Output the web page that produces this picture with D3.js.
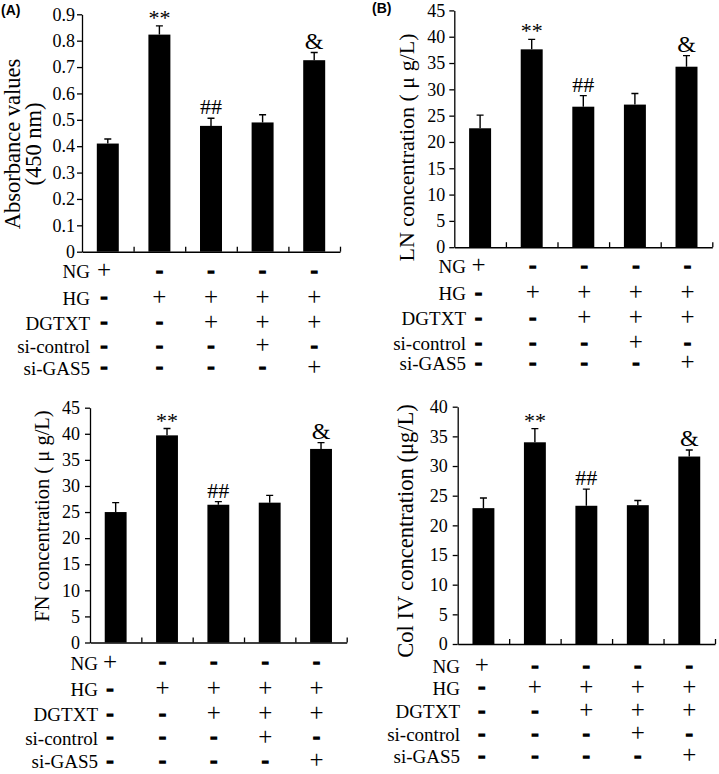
<!DOCTYPE html>
<html>
<head>
<meta charset="utf-8">
<script src="https://cdn.jsdelivr.net/npm/d3@7"></script>
<style>
  html, body { margin: 0; padding: 0; background: #fff; }
  svg { display: block; }
  text { font-family: "Liberation Serif", "Times New Roman", serif; fill: #000; }
</style>
</head>
<body>
<svg id="chart" width="719" height="774"></svg>
<script>
// ---------------- DATA ----------------
const groups = ["G1", "G2", "G3", "G4", "G5"];
const rowLabels = ["NG", "HG", "DGTXT", "si-control", "si-GAS5"];
const treatNG        = ["+", "-", "-", "-", "-"];
const treatHG        = ["-", "+", "+", "+", "+"];
const treatDGTXT     = ["-", "-", "+", "+", "+"];
const treatSiControl = ["-", "-", "-", "+", "-"];
const treatSiGAS5    = ["-", "-", "-", "-", "+"];
const significance   = ["", "**", "##", "", "&"];

const absorbance    = [0.410, 0.823, 0.477, 0.490, 0.726];
const absorbanceErr = [0.017, 0.033, 0.029, 0.029, 0.029];
const lnConc        = [22.6, 37.6, 26.7, 27.1, 34.3];
const lnErr         = [2.5, 1.9, 2.1, 2.1, 2.1];
const fnConc        = [25.0, 39.7, 26.4, 26.8, 37.1];
const fnErr         = [1.8, 1.3, 0.6, 1.4, 1.2];
const colIVConc     = [22.9, 34.0, 23.3, 23.4, 31.6];
const colIVErr      = [1.7, 2.3, 2.8, 0.8, 1.1];

const ticksAbs = [0, 0.1, 0.2, 0.3, 0.4, 0.5, 0.6, 0.7, 0.8, 0.9];
const ticks45  = [0, 5, 10, 15, 20, 25, 30, 35, 40, 45];
const ticks40  = [0, 5, 10, 15, 20, 25, 30, 35, 40];

const treatRows = [treatNG, treatHG, treatDGTXT, treatSiControl, treatSiGAS5];

// ---------------- LAYOUT ----------------
const panels = [
  { tag: "(A)", tagX: 1, tagY: 15, values: absorbance, errs: absorbanceErr, ticks: ticksAbs, yMax: 0.9,
    x0: 82, x1: 340, yZero: 251.7, yTop: 14.3, tickPad: 7,
    yLabel: ["Absorbance values", "(450 nm)"], labelX: [20, 40.5], labelY: 144, labelSize: 22.5,
    rowOff: [20, 46.6, 71.6, 95, 116.6], labelRight: 90, firstX: 104, colShift: 0 },
  { tag: "(B)", tagX: 372, tagY: 13.3, values: lnConc, errs: lnErr, ticks: ticks45, yMax: 45,
    x0: 454.3, x1: 712.3, yZero: 247.2, yTop: 10.4, tickPad: 9,
    yLabel: ["LN concentration ( \u03bc g/L)"], labelX: [414], labelY: 147.5, labelSize: 22,
    rowOff: [19.7, 46.3, 71.3, 96.3, 116.3], labelRight: 466, firstX: 478.5, colShift: 1 },
  { tag: "", values: fnConc, errs: fnErr, ticks: ticks45, yMax: 45,
    x0: 90, x1: 346.7, yZero: 642.5, yTop: 407.7, tickPad: 10,
    yLabel: ["FN concentration ( \u03bc g/L)"], labelX: [49], labelY: 516, labelSize: 20.5,
    rowOff: [20.8, 47.5, 72.5, 95.8, 119.2], labelRight: 98, firstX: 110, colShift: -4.5 },
  { tag: "", values: colIVConc, errs: colIVErr, ticks: ticks40, yMax: 40,
    x0: 457.7, x1: 715, yZero: 644, yTop: 406.7, tickPad: 10,
    yLabel: ["Col IV concentration (\u03bcg/L)"], labelX: [413], labelY: 531, labelSize: 22.5,
    rowOff: [22.7, 44.3, 67.7, 91, 112.7], labelRight: 460, firstX: 481.7, colShift: 0 }
];

const svg = d3.select("#chart");
const AX_W = 1.3;

panels.forEach(p => {
  const g = svg.append("g");
  const x = d3.scaleBand().domain(groups).range([p.x0, p.x1]).paddingInner(0.574).paddingOuter(0.287);
  const y = d3.scaleLinear().domain([0, p.yMax]).range([p.yZero, p.yTop]);
  const bx = d => x(d) + x.bandwidth() / 2;

  // panel tag
  if (p.tag) {
    g.append("text").attr("x", p.tagX).attr("y", p.tagY)
      .style("font-family", "'Liberation Sans', Arial, sans-serif")
      .style("font-weight", "bold").style("font-size", "14px").text(p.tag);
  }

  // bars
  g.selectAll("rect.bar").data(groups).join("rect").attr("class", "bar")
    .attr("x", d => x(d)).attr("width", x.bandwidth())
    .attr("y", (d, i) => y(p.values[i]))
    .attr("height", (d, i) => y(0) - y(p.values[i]))
    .attr("fill", "#000");

  // error bars (upper only)
  const cap = 7;
  g.selectAll("path.err").data(groups).join("path").attr("class", "err")
    .attr("d", (d, i) => {
      const cx = bx(d), yt = y(p.values[i] + p.errs[i]), yb = y(p.values[i]);
      return `M${cx},${yb}V${yt}M${cx - cap / 2},${yt}H${cx + cap / 2}`;
    })
    .attr("stroke", "#000").attr("stroke-width", 1.4).attr("fill", "none");

  // significance marks
  g.selectAll("text.sig").data(groups).join("text").attr("class", "sig")
    .attr("x", d => bx(d))
    .attr("y", (d, i) => y(p.values[i] + p.errs[i]) - (significance[i] === "**" ? 1 : 4))
    .attr("text-anchor", "middle")
    .style("font-size", (d, i) => significance[i] === "&" ? "24px" : "22px")
    .text((d, i) => significance[i]);

  // y axis
  const yAxis = d3.axisLeft(y).tickValues(p.ticks).tickSize(5).tickSizeOuter(0)
    .tickPadding(p.tickPad - 5)
    .tickFormat(d => p.yMax < 1 ? (d === 0 ? "0" : d3.format(".1f")(d)) : d3.format("d")(d));
  const ya = g.append("g").attr("transform", `translate(${p.x0},0)`).call(yAxis);
  ya.selectAll("text").style("font-family", "'Liberation Serif', serif").style("font-size", "18px").attr("fill", "#000");
  ya.selectAll("line").attr("stroke", "#000").attr("stroke-width", AX_W);
  ya.select(".domain").attr("stroke", "#000").attr("stroke-width", AX_W);

  // x axis (ticks at group boundaries, pointing up)
  const xb = d3.scaleLinear().domain([0, groups.length]).range([p.x0, p.x1]);
  const xAxis = d3.axisBottom(xb).tickValues(d3.range(1, groups.length + 1)).tickSize(-5).tickSizeOuter(0).tickFormat("");
  const xa = g.append("g").attr("transform", `translate(0,${p.yZero})`).call(xAxis);
  xa.selectAll("line").attr("stroke", "#000").attr("stroke-width", AX_W);
  xa.select(".domain").attr("stroke", "#000").attr("stroke-width", 1.6);

  // y label
  p.yLabel.forEach((t, k) => {
    g.append("text")
      .attr("transform", `translate(${p.labelX[k]},${p.labelY}) rotate(-90)`)
      .attr("text-anchor", "middle")
      .style("font-size", p.labelSize + "px")
      .text(t);
  });

  // treatment table
  rowLabels.forEach((lab, r) => {
    const cy = p.yZero + p.rowOff[r];
    g.append("text").attr("x", p.labelRight).attr("y", cy + 6.3)
      .attr("text-anchor", "end").style("font-size", "19px").text(lab);
    treatRows[r].forEach((s, c) => {
      const cx = c === 0 ? p.firstX : bx(groups[c]) + p.colShift;
      const t = g.append("text").attr("x", cx).attr("text-anchor", "middle").text(s);
      if (s === "+") {
        t.attr("y", cy + 6.3).style("font-size", "25px");
      } else {
        t.attr("y", cy + 5).style("font-size", "21px").style("font-weight", "bold")
          .attr("stroke", "#000").attr("stroke-width", 1.4);
      }
    });
  });
});
</script>
</body>
</html>
